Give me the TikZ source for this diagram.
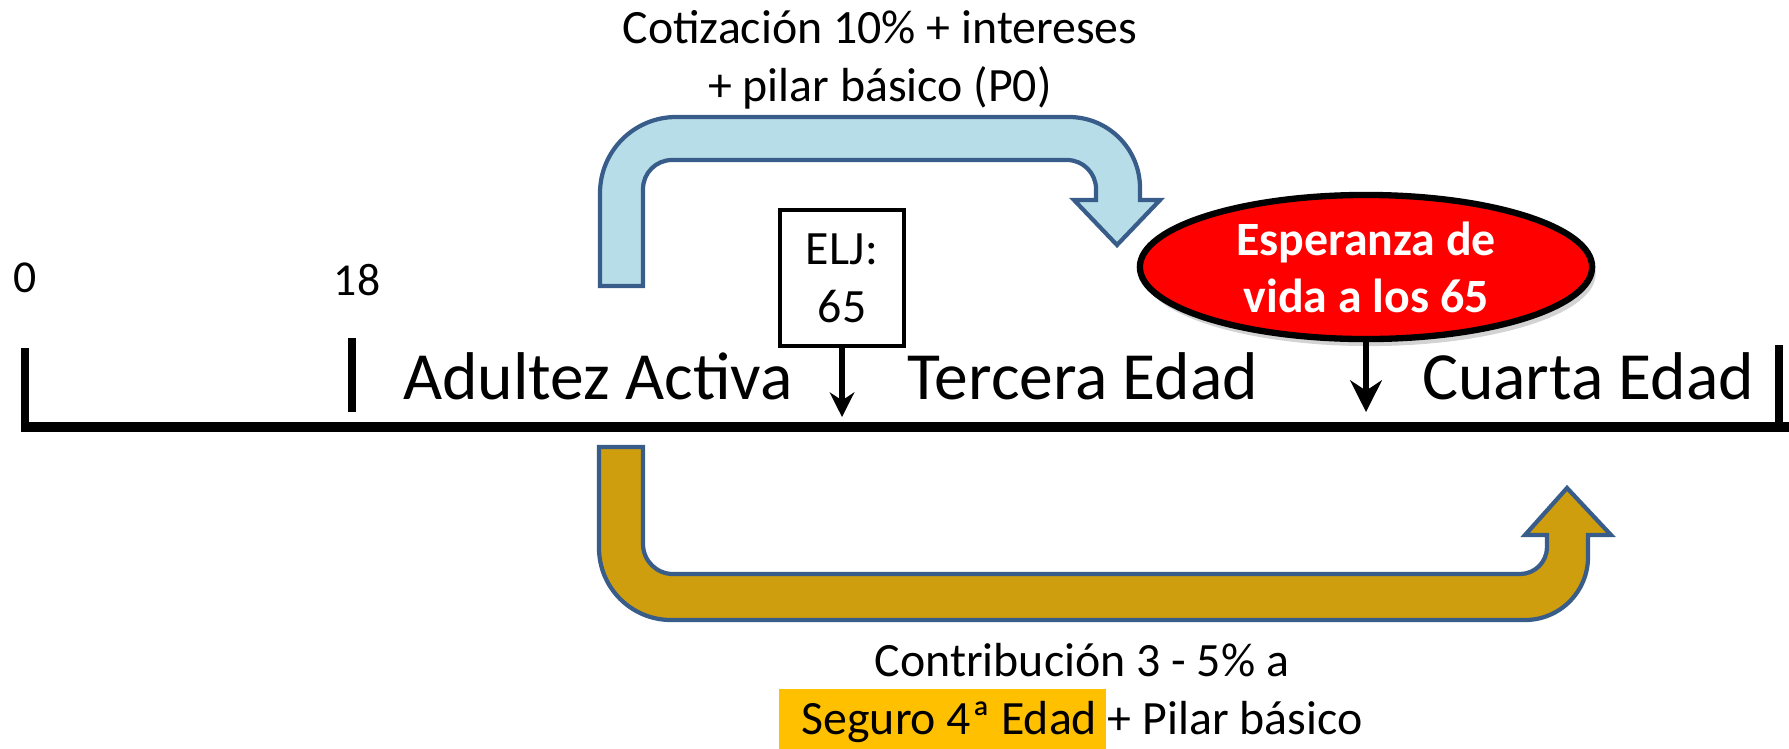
\documentclass[tikz,border=0pt]{standalone}
\usepackage{fontspec}
\setmainfont{Carlito}
\usetikzlibrary{shapes.geometric,arrows.meta,shadows}
\definecolor{pipeblue}{HTML}{B7DEE8}
\definecolor{pipeline}{HTML}{385D8A}
\definecolor{pipegold}{RGB}{207,158,14}
\definecolor{hlorange}{HTML}{FFC000}

\begin{document}
\begin{tikzpicture}[x=0.01cm, y=-0.01cm,
  flow/.style={draw=pipeline, line width=1.2pt},
  stage/.style={font=\fontsize{19.2}{23}\selectfont, anchor=base},
  age/.style={font=\fontsize{13}{16}\selectfont, anchor=base},
  caption/.style={font=\fontsize{13.6}{16.5}\selectfont, align=center},
  tick/.style={line width=2.3pt},
  pointer/.style={line width=1.7pt, -{Stealth[length=7pt, width=7pt]}}]
\useasboundingbox (0,0) rectangle (1789,748);

% time line
\draw[line width=2.6pt] (21,427) -- (1789,427);
\draw[tick] (25,348) -- (25,427);
\draw[tick] (352,338) -- (352,412);
\draw[tick] (1779,345) -- (1779,427);

\node[age] (zero) at (25,292) {0};
\node[age] (eighteen) at (357,295) {18};
\node[stage] (adult) at (598,399) {Adultez Activa};
\node[stage] (third) at (1083,399) {Tercera Edad};
\node[stage] (fourth) at (1588,399) {Cuarta Edad};

% upper pipe
\draw[flow, fill=pipeblue] (600,286) -- (600,250) [rounded corners=0.76cm] -- (600,117)
  [rounded corners=0.71cm] -- (1140,117) [sharp corners] -- (1140,200) -- (1160,200) -- (1117,245)
  -- (1074,200) -- (1096,200) [rounded corners=0.29cm] -- (1096,160) -- (643,160)
  [sharp corners] -- (643,286) -- cycle;
\node[caption] (topnote) at (880,60) {Cotización 10\% + intereses\\+ pilar básico (P0)};

% lower pipe
\draw[flow, fill=pipegold] (599,447) -- (599,500) [rounded corners=0.72cm] -- (599,620)
  [rounded corners=0.63cm] -- (1588,620) [sharp corners] -- (1588,535) -- (1611,535) -- (1567,488)
  -- (1525,535) -- (1547,535) [rounded corners=0.27cm] -- (1547,574) [rounded corners=0.3cm]
  -- (643,574) [sharp corners] -- (643,447) -- cycle;
\fill[hlorange] (779,689) rectangle (1106,760);
\node[caption] (botnote) at (1082,693) {Contribución 3 - 5\% a\\Seguro 4ª Edad + Pilar básico};

% markers
\node[draw, line width=1pt, minimum width=1.24cm, minimum height=1.36cm, align=center,
  font=\fontsize{13.6}{16.5}\selectfont] (elj) at (842,278) {ELJ:\\65};
\coordinate (eljtip) at (842,417);
\draw[pointer] (elj.south) -- (eljtip);

\node[ellipse, draw, line width=1.8pt, fill=red, minimum width=4.52cm, minimum height=1.44cm, inner sep=0,
  text=white, align=center, font=\bfseries\fontsize{13.6}{16.2}\selectfont,
  drop shadow={shadow xshift=1pt, shadow yshift=-2pt, opacity=0.35}] (life) at (1366,267)
  {Esperanza de\\vida a los 65};
\coordinate (lifetip) at (1366,412);
\draw[pointer, -{Stealth[length=9pt, width=9pt]}] (life.south) -- (lifetip);
\end{tikzpicture}
\end{document}
